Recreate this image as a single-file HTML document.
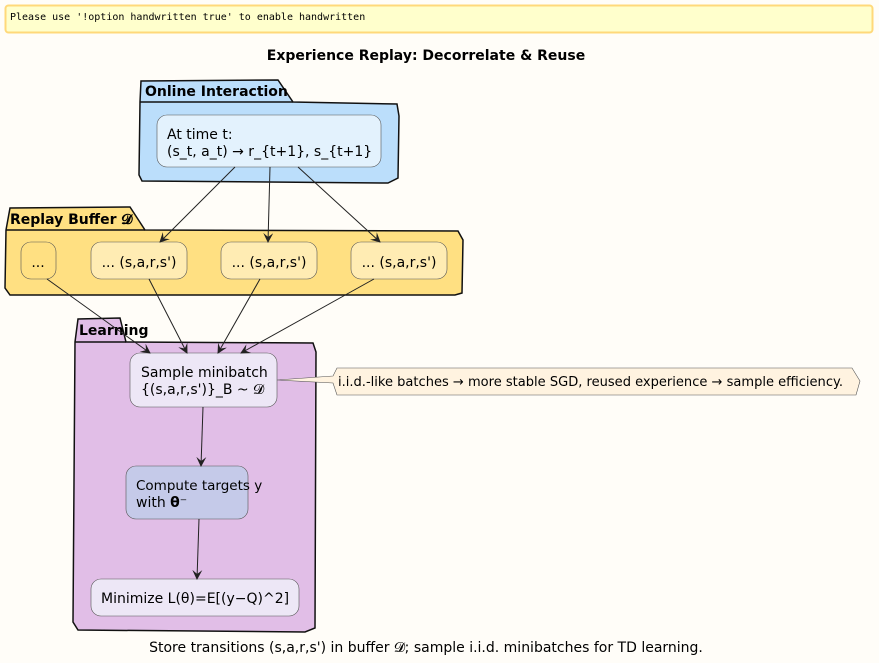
<!DOCTYPE html>
<html><head><meta charset="utf-8"><style>
html,body{margin:0;padding:0;background:#fffdf8;}
svg{display:block;font-family:"DejaVu Sans","Liberation Sans",sans-serif;}
</style></head><body>
<svg width="879" height="663" viewBox="0 0 879 663" xmlns="http://www.w3.org/2000/svg">
<defs><marker id="a" markerWidth="10" markerHeight="10" refX="9" refY="5" orient="auto" markerUnits="userSpaceOnUse"><path d="M0,0 L10,5 L0,10 L4,5 Z" fill="#222"/></marker></defs>
<rect x="0" y="0" width="879" height="663" fill="#fffdf8"/>
<rect x="5.5" y="5.5" width="867" height="27" rx="3" fill="#ffffcc" stroke="#ffd97a" stroke-width="2"/>
<text x="10" y="20" font-family="DejaVu Sans Mono,Liberation Mono,monospace" font-size="10">Please use '!option handwritten true' to enable handwritten</text>
<text x="426" y="60" text-anchor="middle" font-weight="bold" font-size="14">Experience Replay: Decorrelate &amp; Reuse</text>

<path d="M140,102 L141,81 L278,80 L293,102 L397,104 L399,116 L398,178 L388,183 L142,181 L139,175 Z" fill="#bbdefb" stroke="#111" stroke-width="1.5"/>
<line x1="140" y1="102" x2="293" y2="102" stroke="#111" stroke-width="1.5"/>
<text x="145" y="96" font-weight="bold" font-size="14">Online Interaction</text>
<rect x="157" y="115" width="224" height="52" rx="10" fill="#e3f2fd" stroke="#555" stroke-width="0.6"/>
<text x="167" y="139" font-size="14">At time t:</text>
<text x="167" y="156" font-size="14">(s_t, a_t) → r_{t+1}, s_{t+1}</text>

<path d="M6,230 L10,208 L130,207 L145,230 L458,231 L463,240 L462,293 L455,295 L10,295 L5,288 Z" fill="#ffe082" stroke="#111" stroke-width="1.5"/>
<line x1="6" y1="230" x2="145" y2="230" stroke="#111" stroke-width="1.5"/>
<text x="10" y="224" font-weight="bold" font-size="14">Replay Buffer 𝓓</text>
<rect x="21" y="242" width="35" height="37" rx="10" fill="#ffe082" stroke="#555" stroke-width="0.6"/>
<text x="38" y="267" text-anchor="middle" font-size="14">...</text>
<rect x="91" y="242" width="96" height="37" rx="10" fill="#ffecb3" stroke="#555" stroke-width="0.6"/>
<text x="139" y="267" text-anchor="middle" font-size="14">... (s,a,r,s')</text>
<rect x="221" y="242" width="96" height="37" rx="10" fill="#ffecb3" stroke="#555" stroke-width="0.6"/>
<text x="269" y="267" text-anchor="middle" font-size="14">... (s,a,r,s')</text>
<rect x="351" y="242" width="96" height="37" rx="10" fill="#ffecb3" stroke="#555" stroke-width="0.6"/>
<text x="399" y="267" text-anchor="middle" font-size="14">... (s,a,r,s')</text>

<path d="M75,342 L78,319 L120,318 L126,342 L313,343 L316,352 L315,628 L305,632 L78,630 L73,622 Z" fill="#e1bee7" stroke="#111" stroke-width="1.5"/>
<line x1="75" y1="342" x2="126" y2="342" stroke="#111" stroke-width="1.5"/>
<text x="79" y="335" font-weight="bold" font-size="14">Learning</text>
<rect x="130" y="353" width="147" height="54" rx="10" fill="#ede7f6" stroke="#555" stroke-width="0.6"/>
<text x="141" y="377" font-size="14">Sample minibatch</text>
<text x="141" y="394" font-size="14">{(s,a,r,s')}_B ~ 𝓓</text>
<rect x="126" y="466" width="122" height="53" rx="10" fill="#c5cae9" stroke="#555" stroke-width="0.6"/>
<text x="136" y="490" font-size="13.5">Compute targets y</text>
<text x="136" y="507" font-size="14">with <tspan font-weight="bold">θ</tspan>⁻</text>
<rect x="91" y="579" width="208" height="37" rx="10" fill="#ede7f6" stroke="#555" stroke-width="0.6"/>
<text x="101" y="603" font-size="14">Minimize L(θ)=E[(y−Q)^2]</text>

<path d="M277,380 L333,376 L337,368 L852,368 L860,381 L856,395 L337,395 L333,383 Z" fill="#fff3e0" stroke="#555" stroke-width="0.6"/>
<text x="338" y="386" font-size="13.5" textLength="505" lengthAdjust="spacingAndGlyphs">i.i.d.-like batches → more stable SGD, reused experience → sample efficiency.</text>

<g stroke="#222" stroke-width="1" fill="none" marker-end="url(#a)">
<path d="M235,167 L160,242"/>
<path d="M270,167 L268,242"/>
<path d="M298,167 L380,242"/>
<path d="M47,279 L150,353"/>
<path d="M149,279 L187,353"/>
<path d="M260,279 L218,353"/>
<path d="M374,279 L241,353"/>
<path d="M203,407 L201,466"/>
<path d="M199,519 L197,579"/>
</g>
<text x="426" y="652" text-anchor="middle" font-size="14">Store transitions (s,a,r,s') in buffer 𝓓; sample i.i.d. minibatches for TD learning.</text>
</svg>
</body></html>
